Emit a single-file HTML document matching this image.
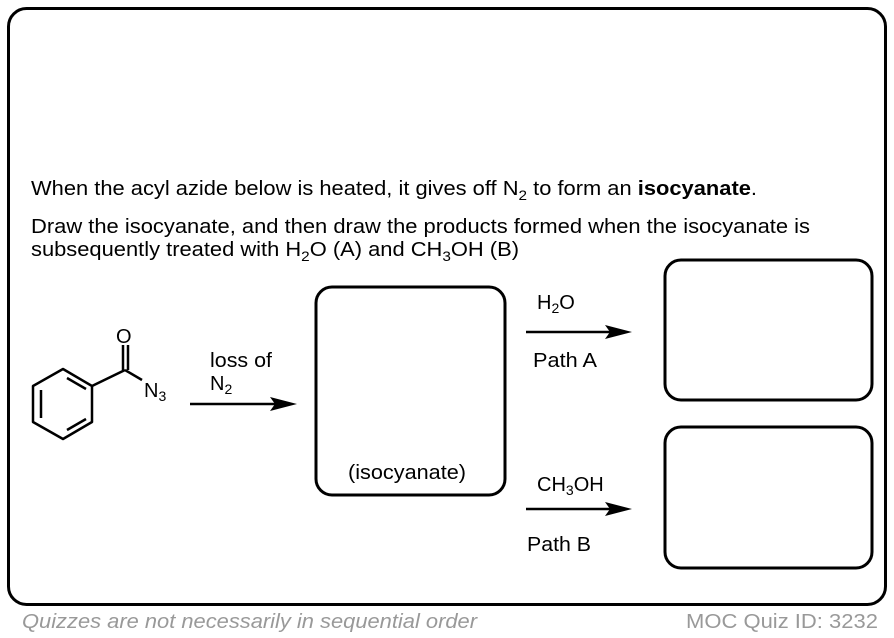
<!DOCTYPE html>
<html><head><meta charset="utf-8"><style>
body{margin:0;width:894px;height:638px;background:#fff;overflow:hidden}
svg{display:block}
text{font-family:"Liberation Sans",Arial,sans-serif;fill:#000}
</style></head><body>
<svg width="894" height="638" viewBox="0 0 894 638">
<rect x="8.5" y="8.5" width="877" height="596" rx="18" fill="#fff" stroke="#000" stroke-width="3"/>
<text x="31" y="195" font-size="20" textLength="726" lengthAdjust="spacingAndGlyphs">When the acyl azide below is heated, it gives off N<tspan font-size="14" dy="5">2</tspan><tspan dy="-5"> to form an </tspan><tspan font-weight="bold">isocyanate</tspan>.</text>
<text x="31" y="233" font-size="20" textLength="779" lengthAdjust="spacingAndGlyphs">Draw the isocyanate, and then draw the products formed when the isocyanate is</text>
<text x="31" y="256" font-size="20" textLength="488" lengthAdjust="spacingAndGlyphs">subsequently treated with H<tspan font-size="14" dy="5">2</tspan><tspan dy="-5">O (A) and CH</tspan><tspan font-size="14" dy="5">3</tspan><tspan dy="-5">OH (B)</tspan></text>
<g stroke="#000" stroke-width="3" fill="none">
<rect x="316" y="287" width="189" height="208" rx="16"/>
<rect x="665" y="260" width="207" height="140" rx="16"/>
<rect x="665" y="427" width="207" height="141" rx="16"/>
</g>
<g stroke="#000" stroke-width="2.5" fill="none" stroke-linejoin="round">
<polygon points="63,369 92,386 92,422 63,439 33,422 33,386"/>
<line x1="67" y1="378" x2="86" y2="389"/>
<line x1="41" y1="390" x2="41" y2="418"/>
<line x1="67" y1="430" x2="86" y2="419"/>
<line x1="92" y1="386" x2="125" y2="370"/>
<line x1="125" y1="370" x2="142" y2="380"/>
<line x1="123" y1="370" x2="123" y2="345"/>
<line x1="128" y1="370" x2="128" y2="345"/>
<line x1="190" y1="404" x2="285" y2="404"/>
<line x1="526" y1="332" x2="620" y2="332"/>
<line x1="526" y1="509" x2="620" y2="509"/>
</g>
<polygon points="297,404 270,397 275,404 270,411" fill="#000"/>
<polygon points="632,332 605,325 610,332 605,339" fill="#000"/>
<polygon points="632,509 605,502 610,509 605,516" fill="#000"/>
<text x="116" y="343" font-size="20">O</text>
<text x="144" y="397" font-size="20">N<tspan font-size="14" dy="4">3</tspan></text>
<text x="210" y="367" font-size="20" textLength="62" lengthAdjust="spacingAndGlyphs">loss of</text>
<text x="210" y="390" font-size="20">N<tspan font-size="14" dy="4">2</tspan></text>
<text x="537" y="309" font-size="20">H<tspan font-size="14" dy="4">2</tspan><tspan dy="-4">O</tspan></text>
<text x="533" y="367" font-size="20" textLength="64" lengthAdjust="spacingAndGlyphs">Path A</text>
<text x="537" y="491" font-size="20">CH<tspan font-size="14" dy="4">3</tspan><tspan dy="-4">OH</tspan></text>
<text x="527" y="551" font-size="20" textLength="64" lengthAdjust="spacingAndGlyphs">Path B</text>
<text x="348" y="479" font-size="20" textLength="118" lengthAdjust="spacingAndGlyphs">(isocyanate)</text>
<text x="22" y="628" font-size="20" font-style="italic" style="fill:#999" textLength="455" lengthAdjust="spacingAndGlyphs">Quizzes are not necessarily in sequential order</text>
<text x="686" y="628" font-size="20" style="fill:#999" textLength="192" lengthAdjust="spacingAndGlyphs">MOC Quiz ID: 3232</text>
</svg>
</body></html>
